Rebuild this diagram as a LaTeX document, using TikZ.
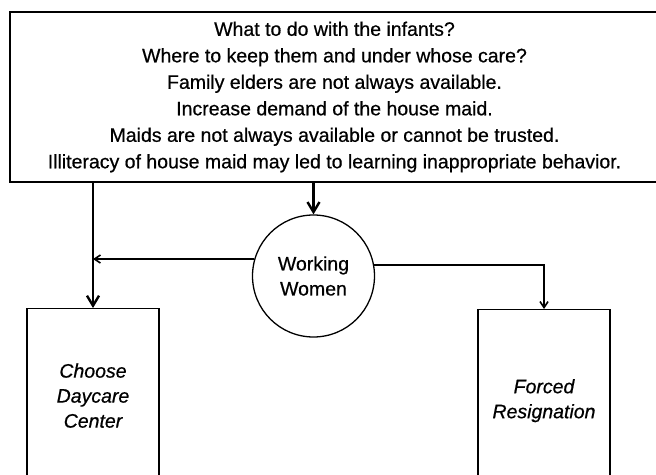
\documentclass[tikz,border=0pt]{standalone}
\usepackage{fontspec}
\setmainfont{Liberation Sans}[FakeBold=0.6]
\usetikzlibrary{arrows.meta}
\tikzstyle{issues} = [draw, line width=1.3pt, rectangle, align=center, minimum width=649pt, minimum height=170pt, inner sep=0pt, font=\fontsize{19.5}{26.5}\selectfont]
\tikzstyle{women} = [draw, line width=1.3pt, circle, minimum size=122pt, inner sep=0pt, align=center, font=\fontsize{19.5}{25}\selectfont]
\tikzstyle{option} = [draw, line width=1.3pt, rectangle, anchor=north, minimum width=132pt, inner sep=0pt, align=center, font=\fontsize{19.5}{25}\selectfont\itshape]
\tikzstyle{heavy} = [line width=2.4pt, -{Straight Barb[length=10pt,width=12pt]}]
\tikzstyle{light} = [line width=1.6pt, -{Straight Barb[length=6pt,width=8pt]}]

\begin{document}
\begin{tikzpicture}[x=1pt, y=-1pt]
    \useasboundingbox (0,0) rectangle (656,474);
    \node[issues] (issues) at (334.5,97) {What to do with the infants?\\Where to keep them and under whose care?\\Family elders are not always available.\\Increase demand of the house maid.\\Maids are not always available or cannot be trusted.\\Illiteracy of house maid may led to learning inappropriate behavior.};
    \node[women] (women) at (313.5,276) {Working\\Women};
    \node[option, minimum height=174pt] (daycare) at (93,308) {Choose\\Daycare\\Center};
    \node[option, minimum height=182pt] (resign) at (544,309) {Forced\\Resignation};
    \draw[heavy] (issues.south -| daycare.north) -- (daycare.north);
    \draw[heavy] (issues.south -| women.north) -- (women.north);
    \draw[light] (women.164) -- (women.164 -| daycare.north);
    \draw[light] (women.10) -| (resign.north);
\end{tikzpicture}
\end{document}
